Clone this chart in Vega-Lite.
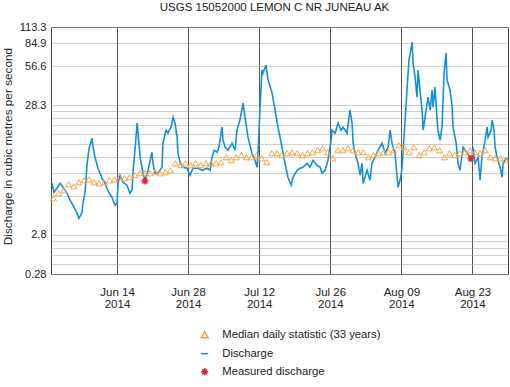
{
  "$schema": "https://vega.github.io/schema/vega-lite/v6.json",
  "width": 457,
  "height": 247,
  "autosize": {"type": "none"},
  "padding": {"left": 51, "top": 27, "right": 2, "bottom": 113},
  "background": "white",
  "title": {"text": "USGS 15052000 LEMON C NR JUNEAU AK", "fontSize": 11.5, "font": "Liberation Sans", "fontWeight": "normal", "color": "#222", "anchor": "middle", "frame": "group", "baseline": "bottom", "offset": -3, "dx": -5},
  "config": {"font": "Liberation Sans", "view": {"stroke": "#444", "strokeWidth": 1}},
  "datasets": {
    "discharge": [
      {"t":"2014-06-01T05:00","q":7.08},{"t":"2014-06-01T14:00","q":6.03},{"t":"2014-06-02T04:00","q":6.48},{"t":"2014-06-02T19:00","q":7.08},
      {"t":"2014-06-03T09:00","q":6.60},{"t":"2014-06-04T04:00","q":5.93},{"t":"2014-06-04T18:00","q":5.24},{"t":"2014-06-05T08:00","q":4.79},
      {"t":"2014-06-06T03:00","q":4.16},{"t":"2014-06-06T12:00","q":3.80},{"t":"2014-06-07T03:00","q":4.23},{"t":"2014-06-07T07:00","q":4.96},
      {"t":"2014-06-07T17:00","q":6.03},{"t":"2014-06-08T02:00","q":9.75},{"t":"2014-06-08T12:00","q":13.19},{"t":"2014-06-09T02:00","q":15.75},
      {"t":"2014-06-09T07:00","q":13.42},{"t":"2014-06-09T16:00","q":11.24},{"t":"2014-06-10T06:00","q":9.24},{"t":"2014-06-11T01:00","q":7.74},
      {"t":"2014-06-11T15:00","q":7.08},{"t":"2014-06-12T05:00","q":6.25},{"t":"2014-06-13T00:00","q":5.52},{"t":"2014-06-13T15:00","q":4.79},
      {"t":"2014-06-14T00:00","q":4.96},{"t":"2014-06-14T05:00","q":7.08},{"t":"2014-06-14T14:00","q":8.17},{"t":"2014-06-15T04:00","q":7.21},
      {"t":"2014-06-15T23:00","q":6.84},{"t":"2014-06-16T13:00","q":5.93},{"t":"2014-06-16T23:00","q":6.25},{"t":"2014-06-17T04:00","q":8.92},
      {"t":"2014-06-17T13:00","q":12.73},{"t":"2014-06-17T23:00","q":20.57},{"t":"2014-06-18T03:00","q":17.53},{"t":"2014-06-18T13:00","q":11.24},
      {"t":"2014-06-19T03:00","q":8.46},{"t":"2014-06-19T12:00","q":7.47},{"t":"2014-06-20T03:00","q":8.92},{"t":"2014-06-20T21:00","q":12.28},
      {"t":"2014-06-21T02:00","q":10.10},{"t":"2014-06-21T12:00","q":8.46},{"t":"2014-06-22T02:00","q":8.46},{"t":"2014-06-22T21:00","q":9.41},
      {"t":"2014-06-23T01:00","q":14.42},{"t":"2014-06-23T16:00","q":18.16},{"t":"2014-06-24T01:00","q":17.22},{"t":"2014-06-24T15:00","q":19.16},
      {"t":"2014-06-25T01:00","q":22.88},{"t":"2014-06-25T10:00","q":20.57},{"t":"2014-06-25T20:00","q":16.04},{"t":"2014-06-26T00:00","q":12.07},
      {"t":"2014-06-26T10:00","q":10.28},{"t":"2014-06-27T00:00","q":9.41},{"t":"2014-06-27T19:00","q":9.24},{"t":"2014-06-28T09:00","q":8.17},
      {"t":"2014-06-28T23:00","q":9.24},{"t":"2014-06-29T23:00","q":9.24},{"t":"2014-06-30T18:00","q":8.92},{"t":"2014-07-01T17:00","q":9.24},
      {"t":"2014-07-02T08:00","q":8.92},{"t":"2014-07-02T17:00","q":11.24},{"t":"2014-07-03T03:00","q":12.73},{"t":"2014-07-03T17:00","q":12.28},
      {"t":"2014-07-04T02:00","q":13.42},{"t":"2014-07-04T16:00","q":19.16},{"t":"2014-07-04T21:00","q":15.20},{"t":"2014-07-05T07:00","q":13.42},
      {"t":"2014-07-05T21:00","q":12.73},{"t":"2014-07-06T16:00","q":14.42},{"t":"2014-07-07T06:00","q":12.73},{"t":"2014-07-07T15:00","q":18.16},
      {"t":"2014-07-08T05:00","q":21.69},{"t":"2014-07-08T20:00","q":29.34},{"t":"2014-07-09T05:00","q":22.88},{"t":"2014-07-09T19:00","q":16.04},
      {"t":"2014-07-10T14:00","q":12.07},{"t":"2014-07-11T04:00","q":10.66},{"t":"2014-07-11T14:00","q":9.41},{"t":"2014-07-11T19:00","q":12.73},
      {"t":"2014-07-12T04:00","q":27.33},{"t":"2014-07-12T13:00","q":52.74},{"t":"2014-07-12T18:00","q":50.00},{"t":"2014-07-13T08:00","q":57.64},
      {"t":"2014-07-13T18:00","q":44.15},{"t":"2014-07-14T13:00","q":35.04},{"t":"2014-07-15T03:00","q":25.92},{"t":"2014-07-15T17:00","q":19.16},
      {"t":"2014-07-16T12:00","q":13.42},{"t":"2014-07-17T02:00","q":10.10},{"t":"2014-07-17T16:00","q":7.88},{"t":"2014-07-18T07:00","q":6.84},
      {"t":"2014-07-18T16:00","q":7.88},{"t":"2014-07-19T11:00","q":8.92},{"t":"2014-07-20T01:00","q":9.24},{"t":"2014-07-20T15:00","q":9.41},
      {"t":"2014-07-21T10:00","q":10.10},{"t":"2014-07-22T00:00","q":9.41},{"t":"2014-07-22T15:00","q":10.66},{"t":"2014-07-23T09:00","q":9.75},
      {"t":"2014-07-24T00:00","q":9.41},{"t":"2014-07-24T09:00","q":8.46},{"t":"2014-07-24T23:00","q":8.92},{"t":"2014-07-25T13:00","q":10.66},
      {"t":"2014-07-26T04:00","q":15.20},{"t":"2014-07-26T08:00","q":18.16},{"t":"2014-07-26T23:00","q":17.22},{"t":"2014-07-27T13:00","q":20.57},
      {"t":"2014-07-28T03:00","q":18.16},{"t":"2014-07-28T12:00","q":19.16},{"t":"2014-07-29T07:00","q":17.22},{"t":"2014-07-29T21:00","q":25.92},
      {"t":"2014-07-30T07:00","q":20.57},{"t":"2014-07-30T12:00","q":14.42},{"t":"2014-07-30T21:00","q":12.07},{"t":"2014-07-31T11:00","q":10.10},
      {"t":"2014-07-31T21:00","q":8.17},{"t":"2014-08-01T06:00","q":10.10},{"t":"2014-08-01T11:00","q":7.08},{"t":"2014-08-02T06:00","q":8.92},
      {"t":"2014-08-02T20:00","q":7.47},{"t":"2014-08-03T05:00","q":10.10},{"t":"2014-08-03T20:00","q":11.24},{"t":"2014-08-04T10:00","q":12.73},
      {"t":"2014-08-05T05:00","q":14.42},{"t":"2014-08-05T19:00","q":12.07},{"t":"2014-08-06T09:00","q":13.42},{"t":"2014-08-06T19:00","q":18.16},
      {"t":"2014-08-07T04:00","q":14.42},{"t":"2014-08-07T18:00","q":12.07},{"t":"2014-08-08T08:00","q":6.60},{"t":"2014-08-08T18:00","q":7.47},
      {"t":"2014-08-09T03:00","q":9.24},{"t":"2014-08-09T17:00","q":20.57},{"t":"2014-08-10T03:00","q":38.30},{"t":"2014-08-10T12:00","q":63.00},
      {"t":"2014-08-11T03:00","q":86.75},{"t":"2014-08-11T07:00","q":59.72},{"t":"2014-08-11T17:00","q":46.57},{"t":"2014-08-12T02:00","q":32.64},
      {"t":"2014-08-12T07:00","q":52.74},{"t":"2014-08-12T16:00","q":36.96},{"t":"2014-08-13T02:00","q":25.92},{"t":"2014-08-13T07:00","q":18.16},
      {"t":"2014-08-13T16:00","q":22.88},{"t":"2014-08-14T06:00","q":32.64},{"t":"2014-08-14T16:00","q":25.92},{"t":"2014-08-15T01:00","q":36.96},
      {"t":"2014-08-15T06:00","q":27.33},{"t":"2014-08-15T15:00","q":38.98},{"t":"2014-08-16T01:00","q":21.69},{"t":"2014-08-16T05:00","q":18.16},
      {"t":"2014-08-16T15:00","q":15.20},{"t":"2014-08-17T00:00","q":19.16},{"t":"2014-08-17T10:00","q":50.00},{"t":"2014-08-17T19:00","q":71.35},
      {"t":"2014-08-18T00:00","q":44.15},{"t":"2014-08-18T14:00","q":36.96},{"t":"2014-08-19T00:00","q":27.33},{"t":"2014-08-19T04:00","q":19.16},
      {"t":"2014-08-19T19:00","q":14.42},{"t":"2014-08-20T04:00","q":10.10},{"t":"2014-08-20T13:00","q":8.92},{"t":"2014-08-21T04:00","q":13.42},
      {"t":"2014-08-21T23:00","q":12.07},{"t":"2014-08-22T13:00","q":11.24},{"t":"2014-08-22T22:00","q":10.66},{"t":"2014-08-23T03:00","q":13.42},
      {"t":"2014-08-23T12:00","q":10.10},{"t":"2014-08-24T03:00","q":11.24},{"t":"2014-08-24T12:00","q":7.47},{"t":"2014-08-24T21:00","q":11.24},
      {"t":"2014-08-25T12:00","q":15.20},{"t":"2014-08-25T21:00","q":19.16},{"t":"2014-08-26T02:00","q":16.04},{"t":"2014-08-26T16:00","q":18.16},
      {"t":"2014-08-26T21:00","q":21.69},{"t":"2014-08-27T06:00","q":18.16},{"t":"2014-08-27T11:00","q":13.42},{"t":"2014-08-27T20:00","q":11.24},
      {"t":"2014-08-28T11:00","q":9.41},{"t":"2014-08-28T20:00","q":7.88},{"t":"2014-08-29T01:00","q":10.10},{"t":"2014-08-29T10:00","q":10.66},
      {"t":"2014-08-29T23:00","q":11.04}
    ],
    "median": [
      {"t":"2014-06-01T12:00","q":5.43},{"t":"2014-06-02T12:00","q":5.93},{"t":"2014-06-03T12:00","q":6.25},{"t":"2014-06-04T12:00","q":6.96},{"t":"2014-06-05T12:00","q":6.71},
      {"t":"2014-06-06T12:00","q":7.21},{"t":"2014-06-07T12:00","q":7.47},{"t":"2014-06-08T12:00","q":7.60},{"t":"2014-06-09T12:00","q":7.21},{"t":"2014-06-10T12:00","q":7.08},
      {"t":"2014-06-11T12:00","q":7.21},{"t":"2014-06-12T12:00","q":7.47},{"t":"2014-06-13T12:00","q":7.60},{"t":"2014-06-14T12:00","q":7.88},{"t":"2014-06-15T12:00","q":7.74},
      {"t":"2014-06-16T12:00","q":7.88},{"t":"2014-06-17T12:00","q":8.17},{"t":"2014-06-18T12:00","q":8.46},{"t":"2014-06-19T12:00","q":8.46},{"t":"2014-06-20T12:00","q":8.46},
      {"t":"2014-06-21T12:00","q":8.61},{"t":"2014-06-22T12:00","q":8.46},{"t":"2014-06-23T12:00","q":8.61},{"t":"2014-06-24T12:00","q":8.92},{"t":"2014-06-25T12:00","q":10.10},
      {"t":"2014-06-26T12:00","q":9.75},{"t":"2014-06-27T12:00","q":10.10},{"t":"2014-06-28T12:00","q":9.75},{"t":"2014-06-29T12:00","q":10.10},{"t":"2014-06-30T12:00","q":9.75},
      {"t":"2014-07-01T12:00","q":10.10},{"t":"2014-07-02T12:00","q":10.10},{"t":"2014-07-03T12:00","q":10.10},{"t":"2014-07-04T12:00","q":10.28},{"t":"2014-07-05T12:00","q":11.24},
      {"t":"2014-07-06T12:00","q":10.66},{"t":"2014-07-07T12:00","q":11.24},{"t":"2014-07-08T12:00","q":11.65},{"t":"2014-07-09T12:00","q":11.24},{"t":"2014-07-10T12:00","q":11.24},
      {"t":"2014-07-11T12:00","q":11.65},{"t":"2014-07-12T12:00","q":11.04},{"t":"2014-07-13T12:00","q":10.28},{"t":"2014-07-14T12:00","q":12.07},{"t":"2014-07-15T12:00","q":12.07},
      {"t":"2014-07-16T12:00","q":11.65},{"t":"2014-07-17T12:00","q":12.07},{"t":"2014-07-18T12:00","q":12.28},{"t":"2014-07-19T12:00","q":12.07},{"t":"2014-07-20T12:00","q":11.65},
      {"t":"2014-07-21T12:00","q":12.07},{"t":"2014-07-22T12:00","q":12.28},{"t":"2014-07-23T12:00","q":12.73},{"t":"2014-07-24T12:00","q":13.19},{"t":"2014-07-25T12:00","q":12.28},
      {"t":"2014-07-26T12:00","q":11.04},{"t":"2014-07-27T12:00","q":12.73},{"t":"2014-07-28T12:00","q":12.73},{"t":"2014-07-29T12:00","q":13.19},{"t":"2014-07-30T12:00","q":12.73},
      {"t":"2014-07-31T12:00","q":12.28},{"t":"2014-08-01T12:00","q":12.28},{"t":"2014-08-02T12:00","q":11.24},{"t":"2014-08-03T12:00","q":11.65},{"t":"2014-08-04T12:00","q":12.07},
      {"t":"2014-08-05T12:00","q":12.28},{"t":"2014-08-06T12:00","q":12.28},{"t":"2014-08-07T12:00","q":12.73},{"t":"2014-08-08T12:00","q":13.91},{"t":"2014-08-09T12:00","q":13.42},
      {"t":"2014-08-10T12:00","q":12.28},{"t":"2014-08-11T12:00","q":13.42},{"t":"2014-08-12T12:00","q":11.65},{"t":"2014-08-13T12:00","q":12.28},{"t":"2014-08-14T12:00","q":13.19},
      {"t":"2014-08-15T12:00","q":13.42},{"t":"2014-08-16T12:00","q":12.73},{"t":"2014-08-17T12:00","q":11.24},{"t":"2014-08-18T12:00","q":12.07},{"t":"2014-08-19T12:00","q":11.65},
      {"t":"2014-08-20T12:00","q":12.07},{"t":"2014-08-21T12:00","q":12.28},{"t":"2014-08-22T12:00","q":12.73},{"t":"2014-08-23T12:00","q":12.28},{"t":"2014-08-24T12:00","q":12.07},
      {"t":"2014-08-25T12:00","q":12.73},{"t":"2014-08-26T12:00","q":11.24},{"t":"2014-08-27T12:00","q":11.04},{"t":"2014-08-28T12:00","q":11.04},{"t":"2014-08-29T12:00","q":10.66}
    ],
    "measured": [
      {"t":"2014-06-19T12:00","q":7.38},
      {"t":"2014-08-22T17:00","q":10.99}
    ]
  },
  "encoding": {
    "x": {
      "field": "t", "type": "temporal",
      "scale": {"domain": [{"year": 2014, "month": 6, "date": 1}, {"year": 2014, "month": 8, "date": 30}]},
      "axis": {
        "title": null,
        "values": [{"year": 2014, "month": 6, "date": 14}, {"year": 2014, "month": 6, "date": 28}, {"year": 2014, "month": 7, "date": 12}, {"year": 2014, "month": 7, "date": 26}, {"year": 2014, "month": 8, "date": 9}, {"year": 2014, "month": 8, "date": 23}],
        "labelExpr": "[timeFormat(datum.value, '%b %d'), timeFormat(datum.value, '%Y')]",
        "grid": true, "gridColor": "#555", "gridWidth": 1, "ticks": false, "domain": false,
        "labelPadding": 12, "labelFontSize": 11.5, "labelColor": "#222", "labelLineHeight": 12.5,
        "labelFlush": false, "labelOverlap": false
      }
    },
    "y": {
      "field": "q", "type": "quantitative",
      "scale": {"type": "log", "domain": [1.41584, 113.2672], "nice": false},
      "axis": {
        "title": "Discharge in cubic metres per second",
        "values": [113.2672, 84.9504, 56.6336, 28.3168, 25.4851, 22.6534, 19.8218, 16.9901, 14.1584, 11.3267, 8.495, 5.6634, 2.83168, 2.54851, 2.26534, 1.98218, 1.69901, 1.41584],
        "labelExpr": "datum.value > 100 ? '113.3' : datum.value > 80 ? '84.9' : datum.value > 50 ? '56.6' : (datum.value > 28 && datum.value < 29) ? '28.3' : (datum.value > 2.8 && datum.value < 2.9) ? '2.8' : datum.value < 1.5 ? '0.28' : ''",
        "grid": true, "gridColor": "#a0a0a0", "gridDash": [1, 1], "gridWidth": 1, "ticks": false, "domain": false,
        "labelPadding": 5, "labelFontSize": 11, "labelColor": "#222", "labelFlush": false, "labelOverlap": false,
        "titleFontSize": 11.8, "titleFontWeight": "normal", "titleColor": "#222",
        "titleX": -40, "titleY": 119, "titleAngle": -90, "titleBaseline": "alphabetic", "titleAlign": "center"
      }
    }
  },
  "layer": [
    {
      "data": {"name": "discharge"},
      "mark": {"type": "line", "strokeWidth": 1.6, "clip": true},
      "encoding": {
        "color": {"datum": "Discharge", "type": "nominal",
          "scale": {"domain": ["Median daily statistic (33 years)", "Discharge", "Measured discharge"], "range": ["#f5a44a", "#1590d8", "#e8203c"]},
          "legend": {"title": null, "orient": "none", "legendX": 148, "legendY": 302, "labelFontSize": 11.3, "labelColor": "#222", "rowPadding": 6, "symbolSize": 50, "labelOffset": 12, "symbolStrokeWidth": 1.5}}
      }
    },
    {
      "data": {"name": "median"},
      "mark": {"type": "point", "filled": false, "strokeWidth": 1, "size": 36, "opacity": 1},
      "encoding": {
        "color": {"datum": "Median daily statistic (33 years)", "type": "nominal",
          "scale": {"domain": ["Median daily statistic (33 years)", "Discharge", "Measured discharge"], "range": ["#f5a44a", "#1590d8", "#e8203c"]},
          "legend": {"title": null, "orient": "none", "legendX": 148, "legendY": 302, "labelFontSize": 11.3, "labelColor": "#222", "rowPadding": 6, "symbolSize": 50, "labelOffset": 12, "symbolStrokeWidth": 1.5}},
        "shape": {"datum": "Median daily statistic (33 years)", "type": "nominal",
          "scale": {"domain": ["Median daily statistic (33 years)", "Discharge", "Measured discharge"], "range": ["triangle-up", "stroke", "M-1,0L1,0M0,-1L0,1M-0.7,-0.7L0.7,0.7M-0.7,0.7L0.7,-0.7"]},
          "legend": {"title": null, "orient": "none", "legendX": 148, "legendY": 302, "labelFontSize": 11.3, "labelColor": "#222", "rowPadding": 6, "symbolSize": 50, "labelOffset": 12, "symbolStrokeWidth": 1.5}}
      }
    },
    {
      "data": {"name": "measured"},
      "mark": {"type": "point", "filled": false, "strokeWidth": 1.5, "size": 50, "opacity": 1},
      "encoding": {
        "color": {"datum": "Measured discharge", "type": "nominal",
          "scale": {"domain": ["Median daily statistic (33 years)", "Discharge", "Measured discharge"], "range": ["#f5a44a", "#1590d8", "#e8203c"]},
          "legend": {"title": null, "orient": "none", "legendX": 148, "legendY": 302, "labelFontSize": 11.3, "labelColor": "#222", "rowPadding": 6, "symbolSize": 50, "labelOffset": 12, "symbolStrokeWidth": 1.5}},
        "shape": {"datum": "Measured discharge", "type": "nominal",
          "scale": {"domain": ["Median daily statistic (33 years)", "Discharge", "Measured discharge"], "range": ["triangle-up", "stroke", "M-1,0L1,0M0,-1L0,1M-0.7,-0.7L0.7,0.7M-0.7,0.7L0.7,-0.7"]},
          "legend": {"title": null, "orient": "none", "legendX": 148, "legendY": 302, "labelFontSize": 11.3, "labelColor": "#222", "rowPadding": 6, "symbolSize": 50, "labelOffset": 12, "symbolStrokeWidth": 1.5}}
      }
    }
  ]
}
